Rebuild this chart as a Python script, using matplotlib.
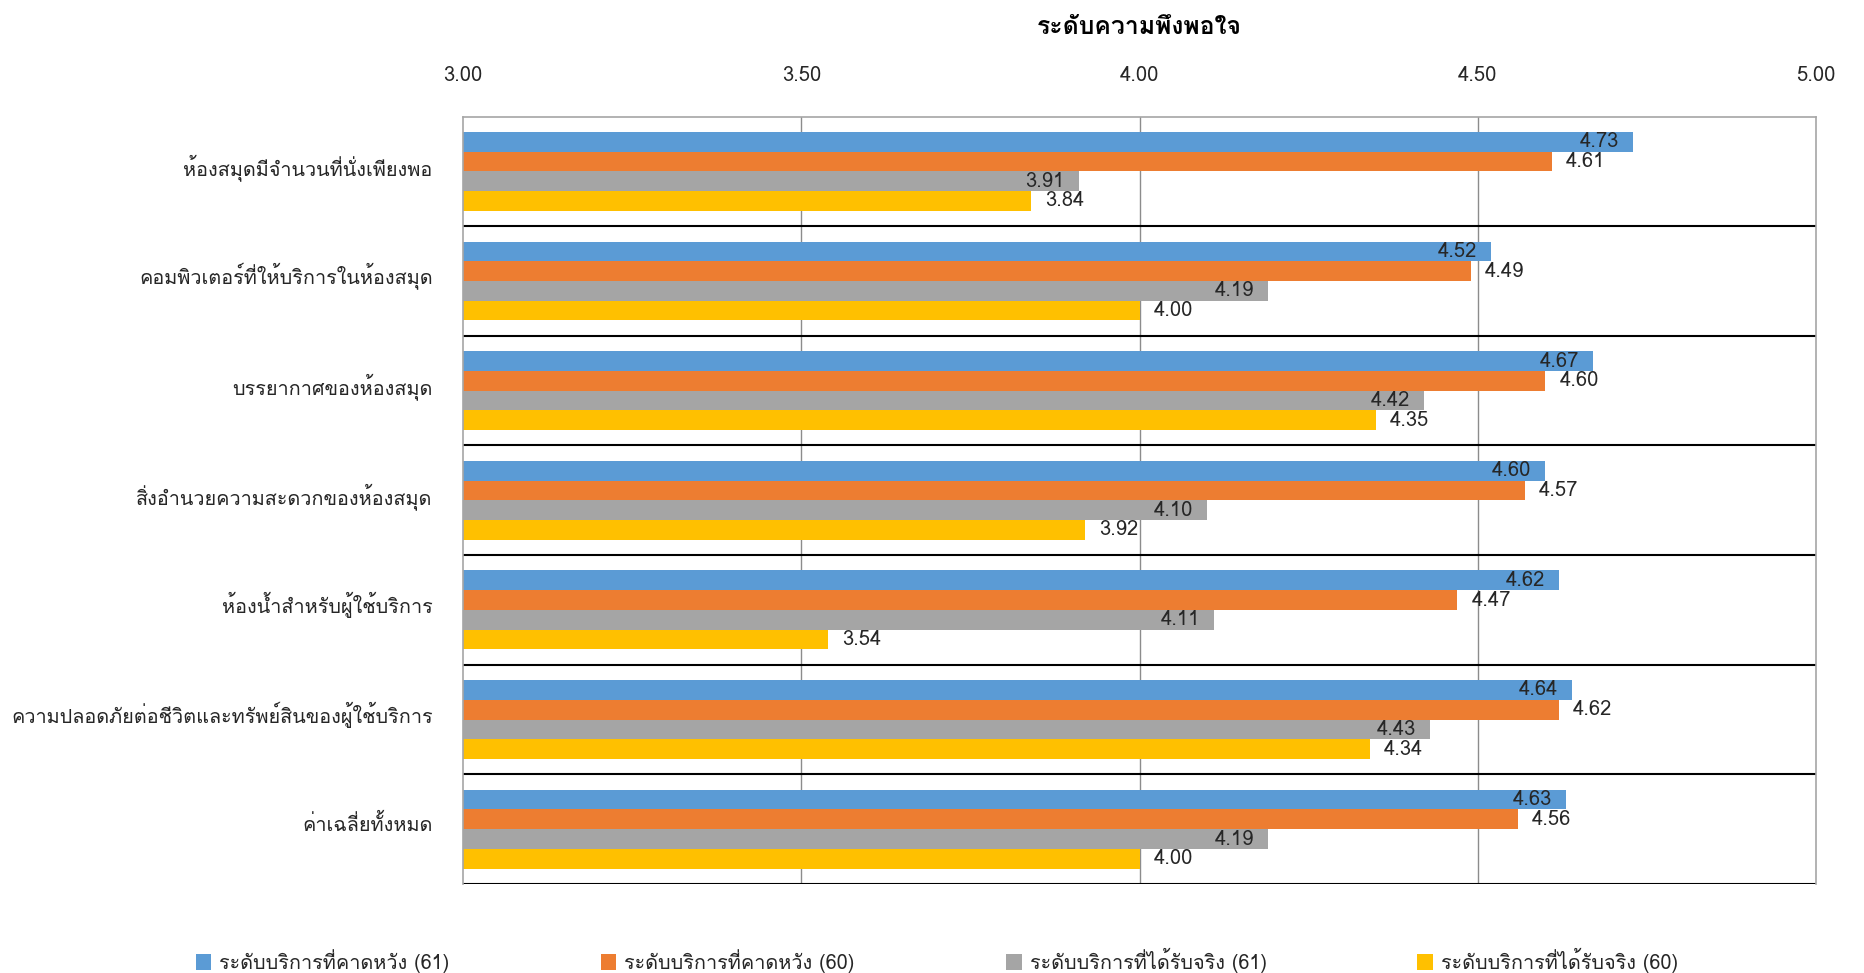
import matplotlib
matplotlib.use("Agg")
import matplotlib.pyplot as plt
from matplotlib.patches import Patch
from matplotlib.transforms import ScaledTranslation
import numpy as np

plt.rcParams['font.family'] = ['Loma', 'Sarabun', 'DejaVu Sans']

categories = [
    "ห้องสมุดมีจำนวนที่นั่งเพียงพอ",
    "คอมพิวเตอร์ที่ให้บริการในห้องสมุด",
    "บรรยากาศของห้องสมุด",
    "สิ่งอำนวยความสะดวกของห้องสมุด",
    "ห้องน้ำสำหรับผู้ใช้บริการ",
    "ความปลอดภัยต่อชีวิตและทรัพย์สินของผู้ใช้บริการ",
    "ค่าเฉลี่ยทั้งหมด",
]
series_names = [
    "ระดับบริการที่คาดหวัง (61)",
    "ระดับบริการที่คาดหวัง (60)",
    "ระดับบริการที่ได้รับจริง (61)",
    "ระดับบริการที่ได้รับจริง (60)",
]
expected_61 = [4.73, 4.52, 4.67, 4.60, 4.62, 4.64, 4.63]
expected_60 = [4.61, 4.49, 4.60, 4.57, 4.47, 4.62, 4.56]
actual_61 = [3.91, 4.19, 4.42, 4.10, 4.11, 4.43, 4.19]
actual_60 = [3.84, 4.00, 4.35, 3.92, 3.54, 4.34, 4.00]
x_ticks = [3.00, 3.50, 4.00, 4.50, 5.00]

colors = ["#5B9BD5", "#ED7D31", "#A5A5A5", "#FFC000"]
text_color = "#262626"
fs_num = 14.5
fs_cat = 14.3
series = [expected_61, expected_60, actual_61, actual_60]
# ป้ายค่า: ฟ้า/เทา อยู่ในปลายแท่ง, ส้ม/เหลือง อยู่นอกปลายแท่ง
inside = [True, False, True, False]

fig = plt.figure(figsize=(18.65, 9.73), dpi=100)
ax = fig.add_axes([0.2483, 0.0915, 0.7254, 0.7887])

y = np.arange(len(categories))
bar_h = 0.18
offsets = [-1.5 * bar_h, -0.5 * bar_h, 0.5 * bar_h, 1.5 * bar_h]

for vals, off, col, name, ins in zip(series, offsets, colors, series_names, inside):
    bars = ax.barh(y + off, vals, height=bar_h, color=col, label=name, zorder=2)
    for b, v in zip(bars, vals):
        yc = b.get_y() + b.get_height() / 2
        if ins:
            ax.annotate(f"{v:.2f}", (v, yc), xytext=(-10, 0), textcoords="offset points",
                        ha="right", va="center", fontsize=fs_num, color=text_color, zorder=3)
        else:
            ax.annotate(f"{v:.2f}", (v, yc), xytext=(10, 0), textcoords="offset points",
                        ha="left", va="center", fontsize=fs_num, color=text_color, zorder=3)

ax.set_xlim(3, 5)
ax.set_ylim(len(categories) - 0.5, -0.5)
ax.set_xticks(x_ticks)
ax.set_xticklabels([f"{t:.2f}" for t in x_ticks])
ax.xaxis.tick_top()
ax.tick_params(axis="x", length=0, pad=23, labelsize=fs_num, labelcolor=text_color)
ax.set_yticks(y)
ax.set_yticklabels(categories)
ax.tick_params(axis="y", length=0, pad=22, labelsize=fs_cat, labelcolor=text_color)
# ยกป้ายหมวดหมู่ขึ้นเล็กน้อยให้อยู่กลางกลุ่มแท่ง
lift = ScaledTranslation(0, 5 / 72, fig.dpi_scale_trans)
for lbl in ax.get_yticklabels():
    lbl.set_transform(lbl.get_transform() + lift)

# เส้นกริดแนวตั้ง
for t in x_ticks[1:-1]:
    ax.axvline(t, color="#8C8C8C", lw=1.0, zorder=1)

# เส้นแบ่งหมวดหมู่
for k in range(1, len(categories) + 1):
    ax.axhline(k - 0.5, color="#000000", lw=1.5, zorder=1)

for side in ["top", "left", "right"]:
    ax.spines[side].set_color("#A6A6A6")
    ax.spines[side].set_linewidth(1.2)
ax.spines["bottom"].set_visible(False)

fig.text(0.6110, 0.972, "ระดับความพึงพอใจ", ha="center", va="center",
         fontsize=17.8, fontweight="bold", color="#000000")

handles = [Patch(facecolor=c, edgecolor="none") for c in colors]
fig.legend(handles, series_names, loc="center", bbox_to_anchor=(0.5024, 0.013),
           ncol=4, frameon=False, fontsize=fs_cat, handlelength=0.8, handleheight=0.8,
           handletextpad=0.4, columnspacing=7.6, labelcolor=text_color)

fig.savefig("out.png", dpi=100)
